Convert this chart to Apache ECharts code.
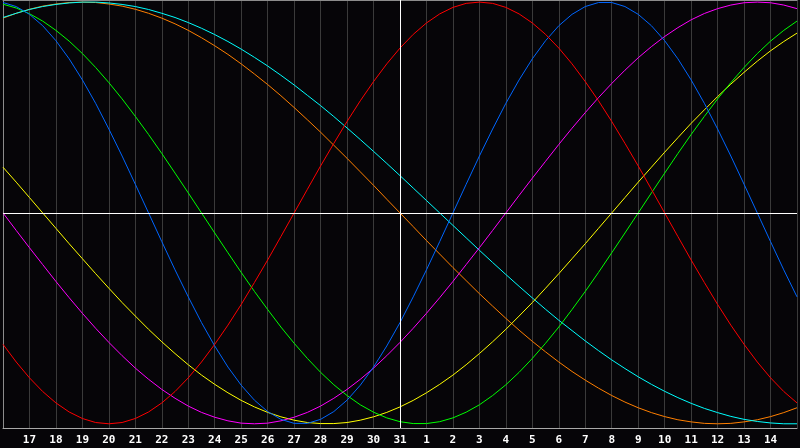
<!DOCTYPE html>
<html>
<head>
<meta charset="utf-8">
<script src="https://cdn.jsdelivr.net/npm/echarts@6/dist/echarts.min.js"></script>
<style>
html,body{margin:0;padding:0;background:#060508;}
#chart{width:800px;height:448px;}
</style>
</head>
<body>
<div id="chart"></div>
<script>
// Day labels along the x axis (one per day, day index 0..30)
const days = ['16','17','18','19','20','21','22','23','24','25','26','27','28','29','30','31',
              '1','2','3','4','5','6','7','8','9','10','11','12','13','14','15'];
const todayIndex = 15;
// Each curve is sampled every half day (61 samples from day index 0 to 30)
const sampleStep = 0.5;

const redValues = [-0.623,-0.707,-0.782,-0.847,-0.901,-0.944,-0.975,-0.994,-1.000,-0.994,-0.975,-0.944,-0.901,-0.847,-0.782,-0.707,-0.623,-0.532,-0.434,-0.330,-0.223,-0.112,0.000,0.112,0.223,0.330,0.434,0.532,0.623,0.707,0.782,0.847,0.901,0.944,0.975,0.994,1.000,0.994,0.975,0.944,0.901,0.847,0.782,0.707,0.623,0.532,0.434,0.330,0.223,0.112,0.000,-0.112,-0.223,-0.330,-0.434,-0.532,-0.623,-0.707,-0.782,-0.847,-0.901];
const blueValues = [0.998,0.979,0.942,0.888,0.817,0.731,0.631,0.520,0.398,0.270,0.136,0.000,-0.136,-0.270,-0.398,-0.520,-0.631,-0.731,-0.817,-0.888,-0.942,-0.979,-0.998,-0.998,-0.979,-0.942,-0.888,-0.817,-0.731,-0.631,-0.520,-0.398,-0.270,-0.136,0.000,0.136,0.270,0.398,0.520,0.631,0.731,0.817,0.888,0.942,0.979,0.998,0.998,0.979,0.942,0.888,0.817,0.731,0.631,0.520,0.398,0.270,0.136,0.000,-0.136,-0.270,-0.398];
const greenValues = [0.990,0.972,0.945,0.910,0.866,0.815,0.756,0.690,0.618,0.541,0.458,0.372,0.282,0.189,0.095,0.000,-0.095,-0.189,-0.282,-0.372,-0.458,-0.541,-0.618,-0.690,-0.756,-0.815,-0.866,-0.910,-0.945,-0.972,-0.990,-0.999,-0.999,-0.990,-0.972,-0.945,-0.910,-0.866,-0.815,-0.756,-0.690,-0.618,-0.541,-0.458,-0.372,-0.282,-0.189,-0.095,0.000,0.095,0.189,0.282,0.372,0.458,0.541,0.618,0.690,0.756,0.815,0.866,0.910];
const magentaValues = [0.000,-0.083,-0.165,-0.245,-0.325,-0.402,-0.476,-0.547,-0.614,-0.677,-0.736,-0.789,-0.837,-0.879,-0.916,-0.946,-0.969,-0.986,-0.997,-1.000,-0.997,-0.986,-0.969,-0.946,-0.916,-0.879,-0.837,-0.789,-0.736,-0.677,-0.614,-0.547,-0.476,-0.402,-0.325,-0.245,-0.165,-0.083,0.000,0.083,0.165,0.245,0.325,0.402,0.476,0.547,0.614,0.677,0.736,0.789,0.837,0.879,0.916,0.946,0.969,0.986,0.997,1.000,0.997,0.986,0.969];
const yellowValues = [0.217,0.146,0.073,0.000,-0.073,-0.146,-0.217,-0.288,-0.357,-0.425,-0.489,-0.552,-0.611,-0.667,-0.720,-0.769,-0.813,-0.853,-0.889,-0.920,-0.946,-0.967,-0.983,-0.994,-0.999,-0.999,-0.994,-0.983,-0.967,-0.946,-0.920,-0.889,-0.853,-0.813,-0.769,-0.720,-0.667,-0.611,-0.552,-0.489,-0.425,-0.357,-0.288,-0.217,-0.146,-0.073,0.000,0.073,0.146,0.217,0.288,0.357,0.425,0.489,0.552,0.611,0.667,0.720,0.769,0.813,0.853];
const orangeValues = [0.924,0.947,0.966,0.981,0.991,0.998,1.000,0.998,0.991,0.981,0.966,0.947,0.924,0.897,0.866,0.831,0.793,0.752,0.707,0.659,0.609,0.556,0.500,0.442,0.383,0.321,0.259,0.195,0.131,0.065,0.000,-0.065,-0.131,-0.195,-0.259,-0.321,-0.383,-0.442,-0.500,-0.556,-0.609,-0.659,-0.707,-0.752,-0.793,-0.831,-0.866,-0.897,-0.924,-0.947,-0.966,-0.981,-0.991,-0.998,-1.000,-0.998,-0.991,-0.981,-0.966,-0.947,-0.924];
const cyanValues = [0.927,0.947,0.965,0.979,0.989,0.996,1.000,1.000,0.996,0.989,0.979,0.965,0.947,0.927,0.903,0.876,0.846,0.813,0.777,0.738,0.697,0.653,0.607,0.558,0.509,0.457,0.403,0.348,0.292,0.235,0.177,0.118,0.059,0.000,-0.059,-0.118,-0.177,-0.235,-0.292,-0.348,-0.403,-0.457,-0.509,-0.558,-0.607,-0.653,-0.697,-0.738,-0.777,-0.813,-0.846,-0.876,-0.903,-0.927,-0.947,-0.965,-0.979,-0.989,-0.996,-1.000,-1.000];

const seriesDefs = [
  {name:'orange', data: orangeValues, color:'#ff7f00'},
  {name:'cyan', data: cyanValues, color:'#00ffff'},
  {name:'yellow', data: yellowValues, color:'#ffff00'},
  {name:'magenta', data: magentaValues, color:'#ff00ff'},
  {name:'green', data: greenValues, color:'#00ff00'},
  {name:'blue', data: blueValues, color:'#0066ff'},
  {name:'red', data: redValues, color:'#ff0000'}
];

const chart = echarts.init(document.getElementById('chart'));
const series = seriesDefs.map(s => ({
  name: s.name,
  type: 'line',
  data: s.data.map((v, i) => [i * sampleStep, v]),
  smooth: false,
  showSymbol: false,
  symbol: 'none',
  silent: true,
  lineStyle: {color: s.color, width: 1},
  itemStyle: {color: s.color},
  z: 3
}));
series.push({
  type: 'line',
  data: [],
  silent: true,
  markLine: {
    silent: true,
    symbol: 'none',
    label: {show: false},
    lineStyle: {color: '#ffffff', width: 1, type: 'solid'},
    emphasis: {disabled: true},
    data: [{yAxis: 0}, {xAxis: todayIndex}]
  },
  z: 2
});

chart.setOption({
  backgroundColor: '#060508',
  animation: false,
  grid: {left: 0, right: 0, top: 0, bottom: 20, containLabel: false},
  xAxis: [{
    type: 'value',
    min: 0,
    max: days.length - 1,
    interval: 1,
    axisLine: {show: true, onZero: false, lineStyle: {color: '#a8a8a8', width: 1}},
    axisTick: {show: false},
    axisLabel: {
      color: '#ffffff',
      fontFamily: 'DejaVu Sans Mono',
      fontWeight: 'bold',
      fontSize: 11,
      margin: 7,
      showMinLabel: true,
      showMaxLabel: true,
      formatter: v => (v === 0 || v === days.length - 1) ? '' : days[v]
    },
    splitLine: {show: true, lineStyle: {color: '#3a3a3a', width: 1}}
  }, {
    type: 'value',
    min: 0,
    max: days.length - 1,
    interval: 1,
    position: 'top',
    axisLine: {show: true, onZero: false, lineStyle: {color: '#8c8c8c', width: 1}},
    axisTick: {show: false},
    axisLabel: {show: false},
    splitLine: {show: false}
  }],
  yAxis: {
    type: 'value',
    min: -1.02,
    max: 1.01,
    axisLine: {show: true, onZero: false, lineStyle: {color: '#8c8c8c', width: 1}},
    axisTick: {show: false},
    axisLabel: {show: false},
    splitLine: {show: false}
  },
  series: series
});
</script>
</body>
</html>
